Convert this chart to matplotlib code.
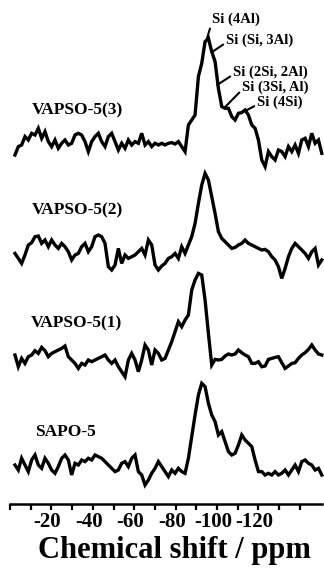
import numpy as np
import matplotlib
matplotlib.use("Agg")
import matplotlib.pyplot as plt
from matplotlib.transforms import ScaledTranslation

plt.rcParams['font.family'] = ['Liberation Serif', 'DejaVu Serif']
plt.rcParams['font.weight'] = 'bold'
plt.rcParams['axes.unicode_minus'] = False

# chemical shift grid (ppm), evenly sampled spectra
shift_ppm = np.linspace(-2.4, -150.6, 93)

# intensities (arb. units) relative to each trace's own baseline
vapso3 = [-11.7, -3.3, -1.7, 6.7, 3.3, 10, 8.3, 15, 5, 11.7,
          1.7, -3.3, 3.3, -5, 0, 3.3, -1.7, 0, 8.3, 10,
          8.3, 1.7, -8.3, 1.7, 6.7, 10, 1.7, -3.3, 6.7, 10,
          1.7, -6.7, 0, -5, 3.3, -1.7, 1.7, 0, 10, -1.7,
          1.7, -3.3, 0, -1.7, 0, -1.7, 0, 0.7, -0.7, 1.7,
          -3.3, -8.3, 18.3, 23.3, 28.3, 66.7, 80, 101.7, 105, 91.7,
          81.7, 55, 36.7, 35, 35, 26.7, 23.3, 30, 30.7, 33.3,
          28.3, 18.3, 15, 3.3, -16.7, -23.3, -8.3, -13.3, -16.7, -6.7,
          -8.3, -13.3, -3.3, -8.3, -1.7, -10, 3.3, 5, -3.3, 10,
          0, 3.3, -10]

vapso2 = [-1.7, -6.7, -11.7, -3.3, 6.7, 9, 15, 15.7, 8.3, 11.7,
          5, 11.7, 6.7, 3.3, 8.3, 5, 0, -8.3, -3.3, -1.7,
          5, 8.3, 0, 5, 15, 16.7, 15, 8.3, -15, -18.3,
          -13.3, 3.3, -11.7, -3.3, -6.7, -5, -3.3, 0, 3.3, -3.3,
          11.7, 6.7, -13.3, -18.3, -14.3, -11.7, -6.7, -5, -1.7, -6.7,
          5, -1.7, 6.7, 15, 28.3, 48.3, 66.7, 78.3, 71.7, 55,
          38.3, 20, 13.3, 10, 6.7, 3.3, 4.3, 6.7, 8.3, 11.7,
          8.3, 6.7, 5, 3.3, 1.7, 2.3, 0, -5, -8.3, -15,
          -26.7, -16.7, -5, 3.3, 8.3, 5, 1.7, -1.7, -6.7, 0,
          3.3, -13.3, -8.3]

vapso1 = [1.7, -10, -1.7, -6.7, 0, 1.7, 6, 3.3, 9.3, 6,
          0, 3.3, 5, 6.7, 8.3, 10.7, 0, -3.3, -6.7, -11.7,
          -6.7, -8.3, -3.3, -5, -3.3, -1.7, 0, 1.7, -3.3, -6.7,
          -3.3, -10, -15, -20, -3.3, 3.3, -3.3, -15, -3.3, 11.7,
          6.7, -8.3, 6.7, 3.3, -3.3, -1.7, 6.7, 15, 25, 35,
          30, 36.7, 41.7, 66.7, 76.7, 83.3, 81.7, 56.7, 23.3, -8.3,
          -2.7, -3.3, -2.7, 0.7, 2.7, 1.7, 2.7, 6.7, 4, 1.7,
          0, -6.7, -6.7, -5, -10, -9.3, -2.7, -1.7, -0.7, 0,
          -6, -11.7, -9.3, -6.7, -6, -1.7, 1.7, 4, 7.3, 11.7,
          6.7, 2.7, 1.7]

sapo5 = [3.3, -1.7, 10, 3.3, -3.3, 8.3, 13.3, 3.3, 0, 10,
         5, -1.7, -5, 1.7, 10, 13.3, 8.3, -6.7, 5, 3.3,
         8.3, 6.7, 10, 8.3, 13.3, 11.7, 10, 6.7, 3.3, 0,
         -3.3, -1.7, 5, 6.7, 1.7, 10, 13.3, -3.3, -6.7, -16.7,
         -11.7, -5, 0, 6.7, 1.7, -3.3, -8.3, -1.7, -5, 0,
         -3.3, -5, 10, 31.7, 53.3, 73.3, 85, 81.7, 65, 53.3,
         46.7, 33.3, 36.7, 26.7, 16.7, 13.3, 15, 23.3, 33.3, 28.3,
         25, 21.7, 8.3, -3.3, -3.3, -6.7, -5, -6.7, -3.3, -6.7,
         -5, -1.7, -6.7, -1.7, 3.3, -3.3, 6.7, 8.3, 5, 3.3,
         -1.7, 0, -6.7]

names = ['VAPSO-5(3)', 'VAPSO-5(2)', 'VAPSO-5(1)', 'SAPO-5']
traces = [vapso3, vapso2, vapso1, sapo5]
offsets = [360.7, 252.3, 147.3, 35.7]
label_pos = [(-10.6, 394), (-10.6, 294), (-10.1, 181), (-12.1, 72)]

# peak assignments on the top trace: (text, point on trace, text position)
assign = [
    ('Si (4Al)', (-95.2, 466), (-97.6, 485)),
    ('Si (Si, 3Al)', (-97.6, 452), (-104.3, 464)),
    ('Si (2Si, 2Al)', (-100.0, 419), (-107.7, 432)),
    ('Si (3Si, Al)', (-103.9, 397), (-112.1, 417)),
    ('Si (4Si)', (-114.5, 394), (-119.3, 402)),
]

fig = plt.figure(figsize=(3.24, 5.73), dpi=100)
ax = fig.add_axes([10 / 324, 69 / 573, 312 / 324, 504 / 573])

for name, tr, off, (lx, ly) in zip(names, traces, offsets, label_pos):
    ax.plot(shift_ppm, np.array(tr) + off, color='black', lw=2.4,
            solid_joinstyle='miter', clip_on=False)
    ax.text(lx, ly, name, fontsize=12.5, fontweight='bold',
            ha='left', va='center')

for txt, xy, xyt in assign:
    ax.annotate(txt, xy=xy, xytext=xyt, fontsize=10.5, fontweight='bold',
                ha='left', va='center',
                arrowprops=dict(arrowstyle='-', lw=1.5, color='black',
                                shrinkA=0, shrinkB=0, relpos=(0, 0.3)))

ax.set_xlim(0, -150.7)
ax.set_ylim(0, 504)
for s in ['top', 'left', 'right']:
    ax.spines[s].set_visible(False)
ax.spines['bottom'].set_linewidth(1.8)
ax.set_yticks([])
ax.set_xticks([-20, -40, -60, -80, -100, -120])
ax.set_xticks(np.arange(0, -150, -10), minor=True)
ax.tick_params(axis='x', which='both', direction='out', length=4,
               width=1.6, labelsize=15, pad=2)
offset = ScaledTranslation(-4 / 100, 0, fig.dpi_scale_trans)
for lab in ax.get_xticklabels():
    lab.set_fontweight('bold')
    lab.set_transform(lab.get_transform() + offset)

fig.text(174 / 324, 1 - 558 / 573, 'Chemical shift / ppm', fontsize=22,
         fontweight='bold', ha='center', va='baseline')

fig.savefig('out.png', dpi=100)
